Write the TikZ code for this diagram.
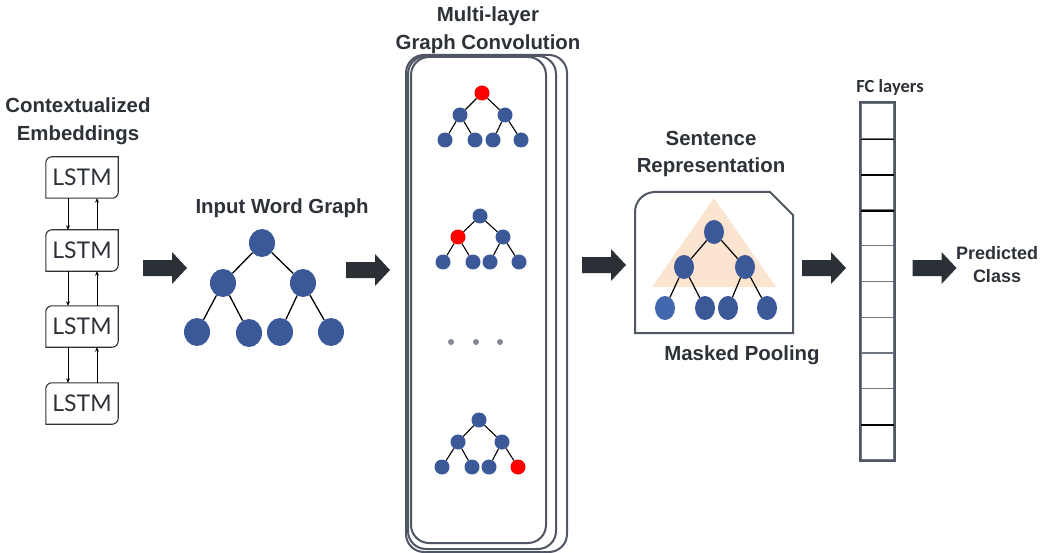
\documentclass[tikz,border=0pt]{standalone}
\usepackage{fontspec}
\setmainfont{Liberation Sans}
\newfontfamily\cbfont{Carlito}
\newfontfamily\ltfont{Lato}
\usetikzlibrary{shapes.geometric,arrows.meta,calc}
\definecolor{txt}{RGB}{45,49,56}
\definecolor{nodeblue}{RGB}{59,89,152}
\definecolor{lightblue}{RGB}{68,104,176}
\definecolor{edgegray}{RGB}{80,86,100}
\definecolor{cellgray}{RGB}{110,116,128}
\definecolor{peach}{RGB}{252,229,208}
\definecolor{arrowdark}{RGB}{43,47,54}
\definecolor{dotgray}{RGB}{130,136,148}
\definecolor{rednode}{RGB}{255,0,0}
\newcommand\lstmoutline[1]{\draw[lstmline] (#1.south west) -- ($(#1.north west)+(0,6)$) arc[start angle=180,end angle=90,radius=6pt] -- (#1.north east) -- ($(#1.south east)+(0,-6)$) arc[start angle=0,end angle=-90,radius=6pt] -- cycle;}
\begin{document}
\begin{tikzpicture}[x=1pt,y=-1pt,
  title/.style={font=\bfseries\fontsize{20.4}{27.5}\selectfont, text=txt, align=center, inner sep=0pt},
  bigarr/.pic={\fill[arrowdark] (-22,-8) -- (7,-8) -- (7,-16) -- (22,0) -- (7,16) -- (7,8) -- (-22,8) -- cycle;},
  lstmbox/.style={minimum width=72pt, minimum height=41pt, inner sep=0pt, font=\ltfont\fontsize{23}{23}\selectfont, text=txt},
  lstmline/.style={draw=txt, line width=1.1pt},
  lstmarrow/.style={-{Stealth[length=4.5pt,width=4pt]}, line width=1pt, black},
  bignode/.style={ellipse, fill=nodeblue, inner sep=0pt, minimum width=26pt, minimum height=28pt},
  smallnode/.style={circle, fill=nodeblue, inner sep=0pt, minimum size=15pt},
  rednd/.style={fill=rednode},
  midnode/.style={ellipse, fill=nodeblue, inner sep=0pt, minimum width=20pt, minimum height=24pt},
  treeedge/.style={black, line width=1.3pt},
  layerbox/.style={draw=edgegray, line width=2pt, fill=white, rounded corners=18pt, inner sep=0pt},
  fccell/.style={draw=cellgray, line width=1.4pt, minimum width=33pt, minimum height=35.7pt, inner sep=0pt},
  dot/.style={circle, fill=dotgray, inner sep=0pt, minimum size=6pt}
]
\useasboundingbox (0,0) rectangle (1043,553);

% ---------- Contextualized embeddings ----------
\node[title] (ctitle) at (78,121.5) {Contextualized\\Embeddings};
\node[lstmbox] (l1) at (82,177.5) {LSTM};
\node[lstmbox] (l2) at (82,250.5) {LSTM};
\node[lstmbox] (l3) at (82,326.5) {LSTM};
\node[lstmbox] (l4) at (82,403.5) {LSTM};
\lstmoutline{l1}
\lstmoutline{l2}
\lstmoutline{l3}
\lstmoutline{l4}
\foreach \a/\b in {l1/l2,l2/l3,l3/l4}{
  \draw[lstmarrow] ([xshift=-14pt]\a.south) -- ([xshift=-14pt]\b.north);
  \draw[lstmarrow] ([xshift=15pt]\b.north) -- ([xshift=15pt]\a.south);
}

% ---------- big arrows ----------
\pic (ar1) at (165,268) {bigarr};
\pic (ar2) at (368,270) {bigarr};
\pic (ar3) at (604,265) {bigarr};
\pic (ar4) at (824,268) {bigarr};
\pic (ar5) at (934.5,268) {bigarr};

% ---------- Input word graph ----------
\node[title] (igtitle) at (282,208) {Input Word Graph};
\node[bignode] (ig0) at (262,243) {};
\node[bignode] (ig1) at (223,283) {};
\node[bignode] (ig2) at (303,283) {};
\node[bignode] (ig3) at (197,332) {};
\node[bignode] (ig4) at (249,333) {};
\node[bignode] (ig5) at (280,332) {};
\node[bignode] (ig6) at (331,332) {};
\foreach \a/\b in {ig0/ig1,ig0/ig2,ig1/ig3,ig1/ig4,ig2/ig5,ig2/ig6}
  \draw[treeedge] (\a) -- (\b);

% ---------- Multi-layer graph convolution ----------
\node[title] (gctitle) at (488,30) {Multi-layer\\Graph Convolution};
\node[layerbox, minimum width=161pt, minimum height=497pt] (gcC) at (486.5,303.5) {};
\node[layerbox, minimum width=148pt, minimum height=493pt] (gcB) at (482,302.5) {};
\node[layerbox, minimum width=135pt, minimum height=486pt] (gcA) at (478.5,300) {};

% tree a
\node[smallnode, rednd] (a0) at (482,93) {};
\node[smallnode] (a1) at (460,115) {};
\node[smallnode] (a2) at (505,115) {};
\node[smallnode] (a3) at (445,140) {};
\node[smallnode] (a4) at (475,140) {};
\node[smallnode] (a5) at (493,140) {};
\node[smallnode] (a6) at (521,140) {};
% tree b
\node[smallnode] (b0) at (480,216) {};
\node[smallnode, rednd] (b1) at (458,237) {};
\node[smallnode] (b2) at (503,237) {};
\node[smallnode] (b3) at (443,262) {};
\node[smallnode] (b4) at (473,262) {};
\node[smallnode] (b5) at (490,262) {};
\node[smallnode] (b6) at (519,262) {};
% tree c
\node[smallnode] (c0) at (479,420) {};
\node[smallnode] (c1) at (458,442) {};
\node[smallnode] (c2) at (502,442) {};
\node[smallnode] (c3) at (442,467) {};
\node[smallnode] (c4) at (472,467) {};
\node[smallnode] (c5) at (489,467) {};
\node[smallnode, rednd] (c6) at (518,467) {};
\foreach \t in {a,b,c}{
  \foreach \p/\q in {0/1,0/2,1/3,1/4,2/5,2/6}
    \draw[treeedge, line width=1.1pt] (\t\p) -- (\t\q);
}
\node[dot] (d1) at (451,342) {};
\node[dot] (d2) at (476,342) {};
\node[dot] (d3) at (500,342) {};

% ---------- Sentence representation ----------
\node[title] (srtitle) at (711,154) {Sentence\\Representation};
\draw[draw=edgegray, line width=2pt, fill=white] (635,333) -- (635,212) arc[start angle=180,end angle=90,radius=20pt] -- (770,192) -- (793,215) -- (793,333) -- cycle;
\fill[peach] (714,198) -- (652,287) -- (776,287) -- cycle;
\node[midnode] (s0) at (714,232) {};
\node[midnode] (s1) at (684,267) {};
\node[midnode] (s2) at (745,267) {};
\node[midnode, fill=lightblue] (s3) at (665,308) {};
\node[midnode] (s4) at (705,308) {};
\node[midnode] (s5) at (728,308) {};
\node[midnode] (s6) at (767,308) {};
\foreach \a/\b in {s0/s1,s0/s2,s1/s3,s1/s4,s2/s5,s2/s6}
  \draw[treeedge, line width=1.2pt] (\a) -- (\b);
\node[title] (mptitle) at (742,355) {Masked Pooling};

% ---------- FC layers ----------
\node[font=\cbfont\bfseries\fontsize{18.5}{20}\selectfont, text=txt, inner sep=0pt] (fctitle) at (890,87) {FC layers};
\foreach \i in {0,...,9}
  \node[fccell] (fc\i) at (877.5,{103+35.7*(\i+0.5)}) {};
\foreach \i in {0,1,2,8}
  \draw[black, line width=1.6pt] (fc\i.south west) -- (fc\i.south east);
\draw[edgegray, line width=1.8pt] (fc0.north west) rectangle (fc9.south east);

% ---------- Predicted class ----------
\node[font=\bfseries\fontsize{18}{23}\selectfont, text=txt, align=center, inner sep=0pt] (pctitle) at (997,265) {Predicted\\Class};
\end{tikzpicture}
\end{document}
